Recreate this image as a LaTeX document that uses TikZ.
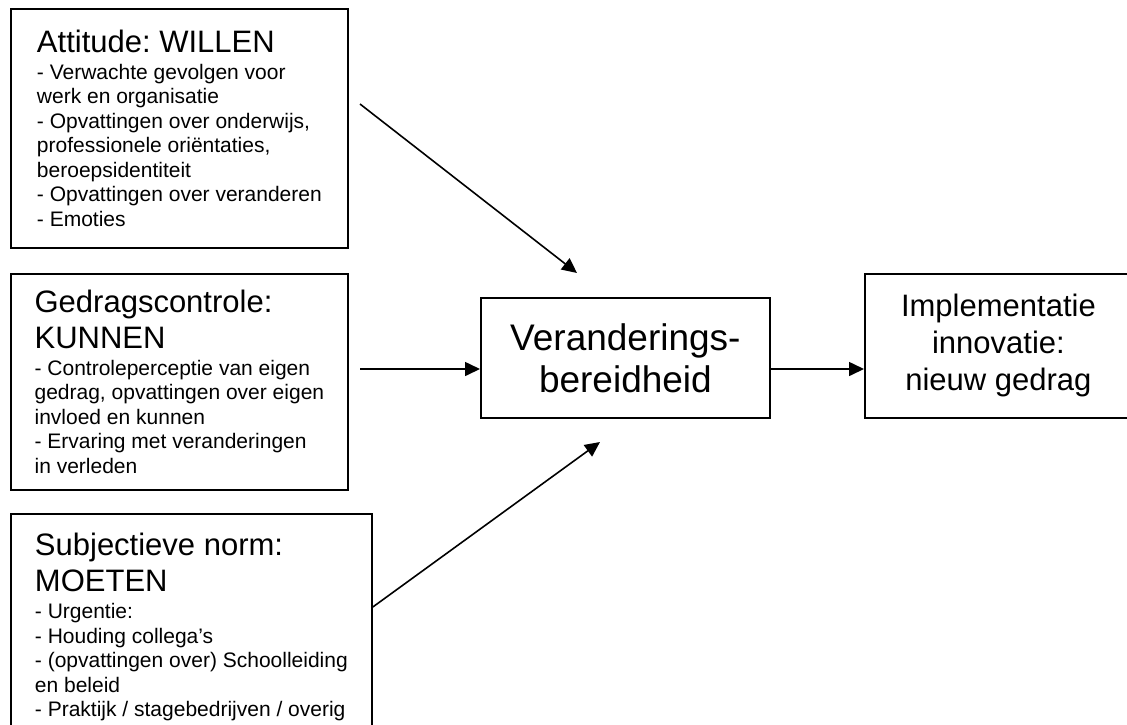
\documentclass[tikz,border=0pt]{standalone}
\usepackage{fontspec}
\setmainfont{Liberation Sans}
\usetikzlibrary{arrows.meta}
\frenchspacing

\newcommand{\ttl}{\fontsize{31}{37}\selectfont}
\newcommand{\bdy}{\fontsize{21}{24.5}\selectfont}

\begin{document}
\begin{tikzpicture}[x=1pt,y=-1pt]
                \tikzstyle{every node}=[draw, line width=1.8pt, inner sep=0pt]
                \tikzstyle{factor}=[anchor=north west, align=left, font=\bdy]
                \tikzstyle{arr}=[-{Triangle[length=15pt,width=14pt]}, line width=1.6pt]
                \useasboundingbox (0,0) rectangle (1127,724);
                \node (willen)  [factor, minimum width=337pt, minimum height=239pt] at (10,8)
                    { {\ttl Attitude: WILLEN}\\[2pt]
                      - Verwachte gevolgen voor\\werk en organisatie\\
                      - Opvattingen over onderwijs,\\professionele oriëntaties,\\beroepsidentiteit\\
                      - Opvattingen over veranderen\\- Emoties };
                \node (kunnen)  [factor, minimum width=337pt, minimum height=216pt] at (10,273)
                    { {\ttl Gedragscontrole:}\\[7pt]{\ttl KUNNEN}\\[2.5pt]
                      - Controleperceptie van eigen\\gedrag, opvattingen over eigen\\invloed en kunnen\\
                      - Ervaring met veranderingen\\in verleden };
                \node (moeten)  [factor, minimum width=361pt, minimum height=226pt] at (10,513)
                    { {\ttl Subjectieve norm:}\\[7pt]{\ttl MOETEN}\\[2.5pt]
                      - Urgentie:\\- Houding collega’s\\- (opvattingen over) Schoolleiding\\en beleid\\
                      - Praktijk / stagebedrijven / overig };
                \node (bereid)  [anchor=north west, align=center, font=\fontsize{37}{42}\selectfont,
                                 minimum width=289pt, minimum height=120pt] at (480,297)
                    { Veranderings-\\bereidheid };
                \node (impl)    [anchor=north west, align=center, font=\ttl,
                                 minimum width=267pt, minimum height=144pt] at (864,273)
                    { Implementatie\\innovatie:\\nieuw gedrag };
                % free ends of the slanted arrows
                \coordinate (w-out) at (360,104);
                \coordinate (w-in)  at (577,273);
                \coordinate (k-out) at (360,369);
                \coordinate (m-out) at (moeten.east |- 0,607);
                \coordinate (m-in)  at (600,442);
                \draw[arr] (w-out) -- (w-in);
                \draw[arr] (k-out) -- (k-out -| bereid.west);
                \draw[arr] (m-out) -- (m-in);
                \draw[arr] (bereid.east |- k-out) -- (impl.west |- k-out);
\end{tikzpicture}
\end{document}
